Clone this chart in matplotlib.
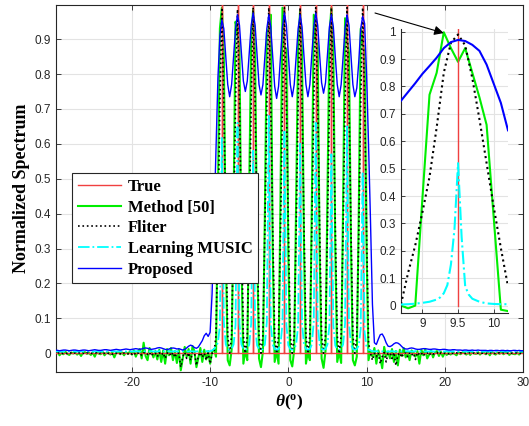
import numpy as np
import matplotlib
matplotlib.use('Agg')
import matplotlib.pyplot as plt

# fonts
plt.rcParams['font.family'] = ['Liberation Sans', 'DejaVu Sans']
plt.rcParams['axes.unicode_minus'] = False
plt.rcParams['mathtext.fontset'] = 'custom'
plt.rcParams['mathtext.rm'] = 'Liberation Serif:bold'
plt.rcParams['mathtext.it'] = 'Liberation Serif:italic:bold'

# true directions of arrival (deg)
doas = [-8.5, -6.5, -4.5, -2.5, -0.5, 1.5, 3.5, 5.5, 7.5, 9.5]

# angle grid of the main spectrum, 0.25 deg step from -30 to 30
theta = np.arange(-30, 30.001, 0.25)

# Proposed (blue), 4 values per degree
proposed = [
    .008, .009, .008, .007,  .008, .009, .009, .008,  .007, .008, .009, .009,   # -30 -29 -28
    .008, .007, .008, .009,  .009, .008, .007, .008,  .009, .010, .009, .008,   # -27 -26 -25
    .008, .009, .010, .010,  .009, .008, .009, .010,  .011, .010, .009, .010,   # -24 -23 -22
    .011, .012, .011, .010,  .011, .012, .013, .012,  .011, .012, .014, .015,   # -21 -20 -19
    .014, .012, .011, .012,  .013, .015, .016, .015,  .013, .011, .010, .012,   # -18 -17 -16
    .014, .015, .014, .012,  .013, .011, .009, .011,  .015, .020, .023, .021,   # -15 -14 -13
    .016, .014, .018, .027,  .036, .050, .057, .048,  .060, .170, .380, .600,   # -12 -11 -10
    .790, .910, .955, .930,  .850, .770, .735, .770,  .850, .930, .970, .940,   # -9 -8 -7
    .860, .780, .750, .780,  .860, .940, .975, .940,  .855, .770, .740, .770,   # -6 -5 -4
    .850, .930, .970, .935,  .850, .765, .730, .765,  .850, .935, .975, .940,   # -3 -2 -1
    .855, .770, .735, .770,  .850, .930, .970, .935,  .850, .770, .735, .770,   # 0 1 2
    .855, .935, .975, .940,  .855, .775, .745, .775,  .855, .935, .970, .935,   # 3 4 5
    .850, .770, .735, .770,  .850, .930, .970, .940,  .855, .770, .735, .760,   # 6 7 8
    .835, .930, .965, .945,  .800, .600, .380, .140,  .030, .025, .040, .053,   # 9 10 11
    .055, .045, .030, .020,  .019, .022, .027, .030,  .029, .025, .019, .014,   # 12 13 14
    .012, .012, .014, .015,  .014, .012, .011, .011,  .012, .013, .013, .012,   # 15 16 17
    .011, .011, .012, .012,  .011, .010, .010, .011,  .011, .010, .009, .009,   # 18 19 20
    .010, .010, .009, .009,  .009, .008, .009, .009,  .008, .008, .009, .008,   # 21 22 23
    .008, .009, .008, .008,  .008, .008, .007, .008,  .008, .007, .008, .008,   # 24 25 26
    .007, .008, .008, .007,  .008, .007, .007, .008,  .008, .007, .008, .007,   # 27 28 29
    .007]

# Fliter (black dotted)
fliter = [
    .001, -.001, .000, .002,  -.002, .001, .000, -.001,  .002, .000, -.002, .001,
    .000, .001, -.001, .000,  -.002, .001, .002, .000,  -.001, .000, .001, -.002,
    .001, -.001, .000, .002,  -.001, .000, -.003, .001,  .000, .002, -.001, -.004,
    .001, .000, -.002, .001,  -.003, .002, -.005, .000,  .002, -.006, .001, .003,
    -.004, .002, -.008, .001,  .000, -.010, .002, -.006,  .001, -.015, .000, .003,
    -.008, .002, -.012, .001,  .000, -.040, -.010, .002,  -.015, .001, -.020, .003,
    .001, -.035, -.008, .002,  -.012, .000, -.020, .001,  -.030, .000, .002, .050,
    .360, .720, .990, .720,  .360, .050, .000, .050,  .360, .720, .985, .720,
    .360, .050, .000, .050,  .360, .720, .990, .720,  .360, .050, .000, .050,
    .360, .720, .990, .720,  .360, .050, .000, .050,  .360, .720, .990, .720,
    .360, .050, .000, .050,  .360, .720, .990, .720,  .360, .050, .000, .050,
    .360, .720, .990, .720,  .360, .050, .000, .050,  .360, .720, .990, .720,
    .360, .050, .000, .050,  .360, .720, .990, .720,  .360, .050, .000, .050,
    .340, .720, .990, .720,  .350, .030, .000, -.020,  .000, -.010, .001, -.030,
    -.010, .002, -.025, .000,  .001, -.015, .002, -.035,  -.005, .001, -.012, .000,
    .002, -.010, .001, -.006,  .000, -.018, .002, -.004,  .001, -.008, .000, .002,
    -.006, .001, -.003, .000,  .002, -.004, .001, -.002,  .000, .001, -.002, .001,
    -.001, .000, .001, -.002,  .001, .000, -.001, .000,  .000, .002, -.001, .001,
    -.001, .000, .001, .000,  .001, -.001, .000, .002,  .000, .001, -.002, .000,
    .001, .000, .001, -.001,  .000, .002, .000, -.001,  .001, .000, -.001, .000,
    .000]

# Method [50] (green)
method50 = [
    .002, -.004, .003, -.006,  .001, -.003, .004, -.002,  -.005, .002, -.001, .003,
    -.004, .001, -.008, .002,  .003, -.002, .001, -.005,  .002, -.010, .003, -.001,
    -.003, .004, -.006, .001,  .002, -.004, .003, -.012,  .001, .004, -.003, .002,
    -.006, .003, -.002, .005,  -.004, .008, -.010, .004,  .012, -.015, .030, -.008,
    -.020, .015, .004, -.012,  .006, -.018, .010, -.025,  .008, -.030, .012, -.006,
    .015, -.020, .006, -.028,  .010, -.049, -.015, .018,  -.010, .012, -.030, .020,
    .005, -.040, -.012, .015,  -.025, .010, -.018, .006,  -.030, .004, .012, -.010,
    .450, .930, .990, .860,  .300, -.020, -.035, .010,  .420, .950, .920, .880,
    .280, -.030, .008, -.020,  .480, .900, .985, .850,  .320, -.015, -.040, .005,
    .400, .920, .930, .970,  .300, -.025, .006, -.030,  .460, .990, .880, .870,
    .280, -.020, -.038, .010,  .440, .880, .980, .860,  .310, -.030, .005, -.020,
    .420, .970, .900, .880,  .290, -.015, -.042, .006,  .450, .910, .990, .870,
    .300, -.025, .004, -.028,  .430, .960, .900, .860,  .320, -.020, -.035, -.010,
    .400, .930, .890, .860,  .300, -.020, .006, -.010,  .015, -.030, .008, -.012,
    -.043, .018, -.010, .005,  -.015, .012, -.025, .006,  -.035, .010, -.008, .015,
    -.012, .004, -.020, .008,  .002, -.010, .006, -.030,  .010, -.006, .012, -.015,
    -.004, .008, -.012, .003,  .006, -.008, .004, -.010,  .003, -.005, .002, -.004,
    .004, -.002, -.006, .003,  -.003, .002, .001, -.004,  .002, -.005, .003, -.001,
    -.002, .003, -.004, .002,  .001, -.003, .004, -.006,  .003, -.001, -.004, .002,
    -.002, .004, -.003, .001,  .002, -.005, .001, -.002,  -.003, .002, -.004, .003,
    .001]

# Learning MUSIC (cyan)
lmusic = (
    [.005, .005, .006, .005] * 20 +
    [.006, .008, .012, .020,  .030, .080, .620, .090,  .025, .012, .010, .012,
     .025, .080, .660, .085,  .025, .012, .010, .012,  .025, .085, .580, .080,
     .022, .012, .010, .012,  .025, .090, .680, .085,  .025, .012, .010, .012,
     .025, .085, .640, .080,  .022, .012, .010, .012,  .025, .080, .600, .085,
     .025, .012, .010, .012,  .025, .090, .660, .090,  .025, .012, .010, .012,
     .025, .080, .570, .080,  .022, .012, .010, .012,  .025, .085, .650, .085,
     .025, .012, .010, .012,  .022, .070, .520, .060,  .015, .010, .008, .006] +
    [.005, .006, .005, .005] * 19 + [.005])

# zoomed region around 9.5 deg
zoom_theta = [8.7, 8.8, 8.9, 9.0, 9.1, 9.2, 9.3, 9.4, 9.5, 9.6, 9.7, 9.8, 9.9, 10.0, 10.1, 10.2]
zoom_method50 = [.000, -.010, .000, .390, .770, .850, .998, .940, .890, .940, .850, .760, .660, .320, -.015, -.020]
zoom_fliter = [.005, .120, .220, .340, .470, .650, .850, .960, .990, .950, .830, .680, .520, .360, .210, .070]
zoom_proposed = [.748, .780, .812, .846, .875, .905, .940, .962, .970, .966, .952, .930, .880, .810, .740, .640]
zoom_theta_lm = [8.7, 8.8, 8.9, 9.0, 9.1, 9.2, 9.25, 9.3, 9.35, 9.4, 9.45, 9.5, 9.55,
                 9.6, 9.65, 9.7, 9.8, 9.9, 10.0, 10.1, 10.2]
zoom_lmusic = [.004, .005, .007, .010, .014, .022, .030, .045, .075, .150, .280, .520, .250,
               .070, .040, .025, .014, .008, .006, .005, .005]

# true spectrum as impulses
true_x, true_y = [], []
for d in doas:
    true_x += [d, d, d]
    true_y += [0, 1, 0]
true_x = [-30] + true_x + [30]
true_y = [0] + true_y + [0]

c_red = '#f04040'
c_green = '#00ee00'
c_black = 'k'
c_cyan = '#00ffff'
c_blue = '#0000ff'

fig = plt.figure(figsize=(5.29, 4.26), dpi=100)
ax = fig.add_axes([0.1059, 0.1275, 0.8828, 0.8601])

l1, = ax.plot(true_x, true_y, color=c_red, lw=1.0, zorder=3)
l2, = ax.plot(theta, method50, color=c_green, lw=1.5, zorder=2)
l3, = ax.plot(theta, fliter, color=c_black, ls=':', lw=1.2, zorder=4)
l4, = ax.plot(theta, lmusic, color=c_cyan, ls='-.', lw=1.3, zorder=5)
l5, = ax.plot(theta, proposed, color=c_blue, lw=1.0, zorder=6)

ax.set_xlim(-29.7, 30)
ax.set_ylim(-0.053, 0.997)
ax.set_xticks([-20, -10, 0, 10, 20, 30])
ax.set_yticks(np.arange(0, 0.95, 0.1))
ax.set_yticklabels(['0', '0.1', '0.2', '0.3', '0.4', '0.5', '0.6', '0.7', '0.8', '0.9'])
ax.grid(True, color='#e3e3e3', lw=0.8)
ax.set_axisbelow(True)
ax.tick_params(direction='in', top=True, right=True, labelsize=8.5,
               colors='#262626', length=3.5, width=0.6)
for s in ax.spines.values():
    s.set_color('#262626')
    s.set_linewidth(0.8)

ax.set_xlabel(r'$\theta(^{\mathrm{o}})$', fontsize=12.5, labelpad=3)
ax.set_ylabel('Normalized Spectrum', fontsize=13, fontweight='bold',
              family='Liberation Serif', labelpad=3)

leg = ax.legend([l1, l2, l3, l4, l5],
                ['True', 'Method [50]', 'Fliter', 'Learning MUSIC', 'Proposed'],
                loc='upper left', bbox_to_anchor=(0.034, 0.542), borderaxespad=0,
                prop={'family': 'Liberation Serif', 'weight': 'bold', 'size': 12},
                fancybox=False, edgecolor='#262626', framealpha=1,
                handlelength=2.6, handletextpad=0.4, labelspacing=0.28,
                borderpad=0.35)
leg.get_frame().set_linewidth(0.8)
leg.set_zorder(10)

# inset
axi = fig.add_axes([0.758, 0.2653, 0.2023, 0.6667])
axi.plot(zoom_theta, zoom_method50, color=c_green, lw=1.5, zorder=2)
axi.plot(zoom_theta, zoom_fliter, color=c_black, ls=':', lw=1.5, zorder=4)
axi.plot([9.5, 9.5], [0, 1.02], color=c_red, lw=1.0, zorder=3)
axi.plot(zoom_theta_lm, zoom_lmusic, color=c_cyan, ls='-.', lw=1.5, zorder=5)
axi.plot(zoom_theta, zoom_proposed, color=c_blue, lw=1.5, zorder=6)
axi.set_xlim(8.7, 10.2)
axi.set_ylim(-0.027, 1.01)
axi.set_xticks([9, 9.5, 10])
axi.set_xticklabels(['9', '9.5', '10'])
axi.set_yticks(np.arange(0, 1.01, 0.1))
axi.set_yticklabels(['0', '0.1', '0.2', '0.3', '0.4', '0.5', '0.6', '0.7', '0.8', '0.9', '1'])
axi.grid(True, color='#e3e3e3', lw=0.8)
axi.set_axisbelow(True)
axi.tick_params(direction='in', labelsize=8.5, colors='#262626', length=3, width=0.6)
for s in axi.spines.values():
    s.set_color('#262626')
    s.set_linewidth(0.8)
axi.spines['top'].set_visible(False)
axi.spines['right'].set_visible(False)

axi.annotate('', xy=(9.3, 0.995), xytext=(375 / 529, 1 - 13 / 426),
             textcoords='figure fraction', annotation_clip=False,
             arrowprops=dict(arrowstyle='-|>', color='k', lw=0.8, mutation_scale=14,
                             shrinkA=0, shrinkB=0))

fig.savefig('out.png', dpi=100)
